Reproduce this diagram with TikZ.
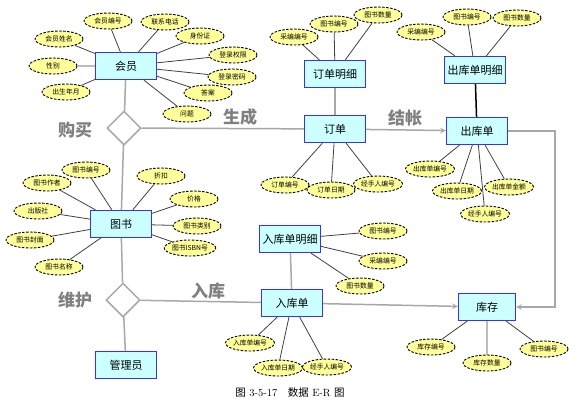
\documentclass[tikz,border=0pt]{standalone}
\usepackage{fontspec}
\newfontfamily\cjk{Noto Sans CJK SC}
\usepackage{xcolor}
\usepackage{tikz}
\usetikzlibrary{shapes.geometric, arrows, positioning}
\definecolor{entfill}{HTML}{CCFFFF}
\definecolor{entline}{HTML}{3333FF}
\definecolor{attfill}{HTML}{FFFF99}
\definecolor{relgray}{HTML}{A8A8A8}
\definecolor{verbgray}{HTML}{808080}

\begin{document}
\begin{tikzpicture}[
    x=1pt, y=-1pt,
    entity/.style={draw=entline, line width=1.2pt, fill=entfill, rectangle,
      minimum width=61pt, minimum height=27pt, inner sep=1pt,
      font=\cjk\fontsize{11}{12}\selectfont},
    attr/.style={draw, line width=0.9pt, dash pattern=on 2.5pt off 1.5pt,
      ellipse, fill=attfill, minimum width=48pt, minimum height=16pt,
      inner sep=0.3pt, font=\cjk\fontsize{6.8}{7}\selectfont},
    link/.style={draw=black!75, line width=0.8pt},
    rel/.style={draw=relgray, line width=1.5pt},
    relbox/.style={draw=relgray, line width=1.5pt, diamond, fill=white,
      minimum size=34pt, inner sep=0pt},
    verb/.style={text=verbgray, font=\cjk\bfseries\fontsize{17}{19}\selectfont},
    arrow/.style={rel,->,>=stealth}
]
\useasboundingbox (0,0) rectangle (580,405);

% entities
\node[entity] (member) at (126,66) {会员};
\node[entity] (orderdet) at (335,74) {订单明细};
\node[entity] (outdet) at (475,70) {出库单明细};
\node[entity] (order) at (335,129) {订单};
\node[entity] (outbill) at (477,131) {出库单};
\node[entity] (book) at (121,224) {图书};
\node[entity] (indet) at (290,239) {入库单明细};
\node[entity] (inbill) at (292,303) {入库单};
\node[entity, minimum width=57pt] (stock) at (487,307) {库存};
\node[entity] (admin) at (126,365) {管理员};

% relationships
\node[relbox] (buy) at (124,128) {};
\node[relbox] (keep) at (123,300) {};
\node[verb] (buylbl) at (75,130) {购买};
\node[verb] (genlbl) at (240,117) {生成};
\node[verb] (paylbl) at (405,118) {结帐};
\node[verb] (keeplbl) at (75,300) {维护};
\node[verb] (inlbl) at (208,291) {入库};
\coordinate (turn) at (555,131);

\draw[rel] (member) -- (buy);
\draw[rel] (buy) -- (book);
\draw[rel] (buy) -- (order);
\draw[rel] (orderdet) -- (order);
\draw[arrow] (order) -- (outbill);
\draw[black, line width=1.5pt] (outdet) -- (outbill);
\draw[arrow] (outbill) -- (turn) |- (stock);
\draw[rel] (book) -- (keep);
\draw[rel] (keep) -- (admin);
\draw[rel] (keep) -- (inbill);
\draw[rel] (indet) -- (inbill);
\draw[arrow] (inbill) -- (stock);

% member attributes
\node[attr] (m1) at (108,21) {会员编号};
\node[attr] (m2) at (165,22) {联系电话};
\node[attr] (m3) at (200,36) {身份证};
\node[attr] (m4) at (59,39) {会员姓名};
\node[attr] (m5) at (233,55) {登录权限};
\node[attr] (m6) at (53,66) {性别};
\node[attr] (m7) at (232,77) {登录密码};
\node[attr] (m8) at (66,92) {出生年月};
\node[attr] (m9) at (208,93) {答案};
\node[attr] (m10) at (187,114) {问题};
\draw[link] (member) -- (m1) (member) -- (m2) (member) -- (m3) (member) -- (m4)
  (member) -- (m5) (member) -- (m6) (member) -- (m7) (member) -- (m8)
  (member) -- (m9) (member) -- (m10);

% order detail / out detail attributes
\node[attr] (od1) at (294,37) {采编编号};
\node[attr] (od2) at (334,24) {图书编号};
\node[attr] (od3) at (378,15) {图书数量};
\node[attr] (xd1) at (421,32) {采编编号};
\node[attr] (xd2) at (467,17) {图书编号};
\node[attr] (xd3) at (517,18) {图书数量};
\draw[link] (orderdet) -- (od1) (orderdet) -- (od2) (orderdet) -- (od3);
\draw[link] (outdet) -- (xd1) (outdet) -- (xd2) (outdet) -- (xd3);

% order / out bill attributes
\node[attr] (o1) at (285,185) {订单编号};
\node[attr] (o2) at (331,190) {订单日期};
\node[attr] (o3) at (378,184) {经手人编号};
\node[attr] (x1) at (430,169) {出库单编号};
\node[attr] (x2) at (457,191) {出库单日期};
\node[attr] (x3) at (509,187) {出库单金额};
\node[attr] (x4) at (485,214) {经手人编号};
\draw[link] (order) -- (o1) (order) -- (o2) (order) -- (o3);
\draw[link] (outbill) -- (x1) (outbill) -- (x2) (outbill) -- (x3) (outbill) -- (x4);

% book attributes
\node[attr] (b1) at (86,170) {图书编号};
\node[attr] (b2) at (47,183) {图书作者};
\node[attr] (b3) at (38,211) {出版社};
\node[attr] (b4) at (30,240) {图书封面};
\node[attr] (b5) at (59,267) {图书名称};
\node[attr] (b6) at (161,176) {折扣};
\node[attr] (b7) at (194,199) {价格};
\node[attr] (b8) at (197,226) {图书类别};
\node[attr] (b9) at (190,248) {图书ISBN号};
\draw[link] (book) -- (b1) (book) -- (b2) (book) -- (b3) (book) -- (b4)
  (book) -- (b5) (book) -- (b6) (book) -- (b7) (book) -- (b8) (book) -- (b9);

% in detail / in bill / stock attributes
\node[attr] (id1) at (383,231) {图书编号};
\node[attr] (id2) at (383,261) {采编编号};
\node[attr] (id3) at (360,286) {图书数量};
\node[attr] (i1) at (250,343) {入库单编号};
\node[attr] (i2) at (278,368) {入库单日期};
\node[attr] (i3) at (327,367) {经手人编号};
\node[attr] (s1) at (431,347) {库存编号};
\node[attr] (s2) at (487,363) {库存数量};
\node[attr] (s3) at (544,349) {图书编号};
\draw[link] (indet) -- (id1) (indet) -- (id2) (indet) -- (id3);
\draw[link] (inbill) -- (i1) (inbill) -- (i2) (inbill) -- (i3);
\draw[link] (stock) -- (s1) (stock) -- (s2) (stock) -- (s3);

\node[font=\fontsize{10.5}{12}\selectfont] (caption) at (290,393)
  {{\cjk 图} 3-5-17\quad{\cjk 数据} E-R {\cjk 图}};
\end{tikzpicture}
\end{document}
